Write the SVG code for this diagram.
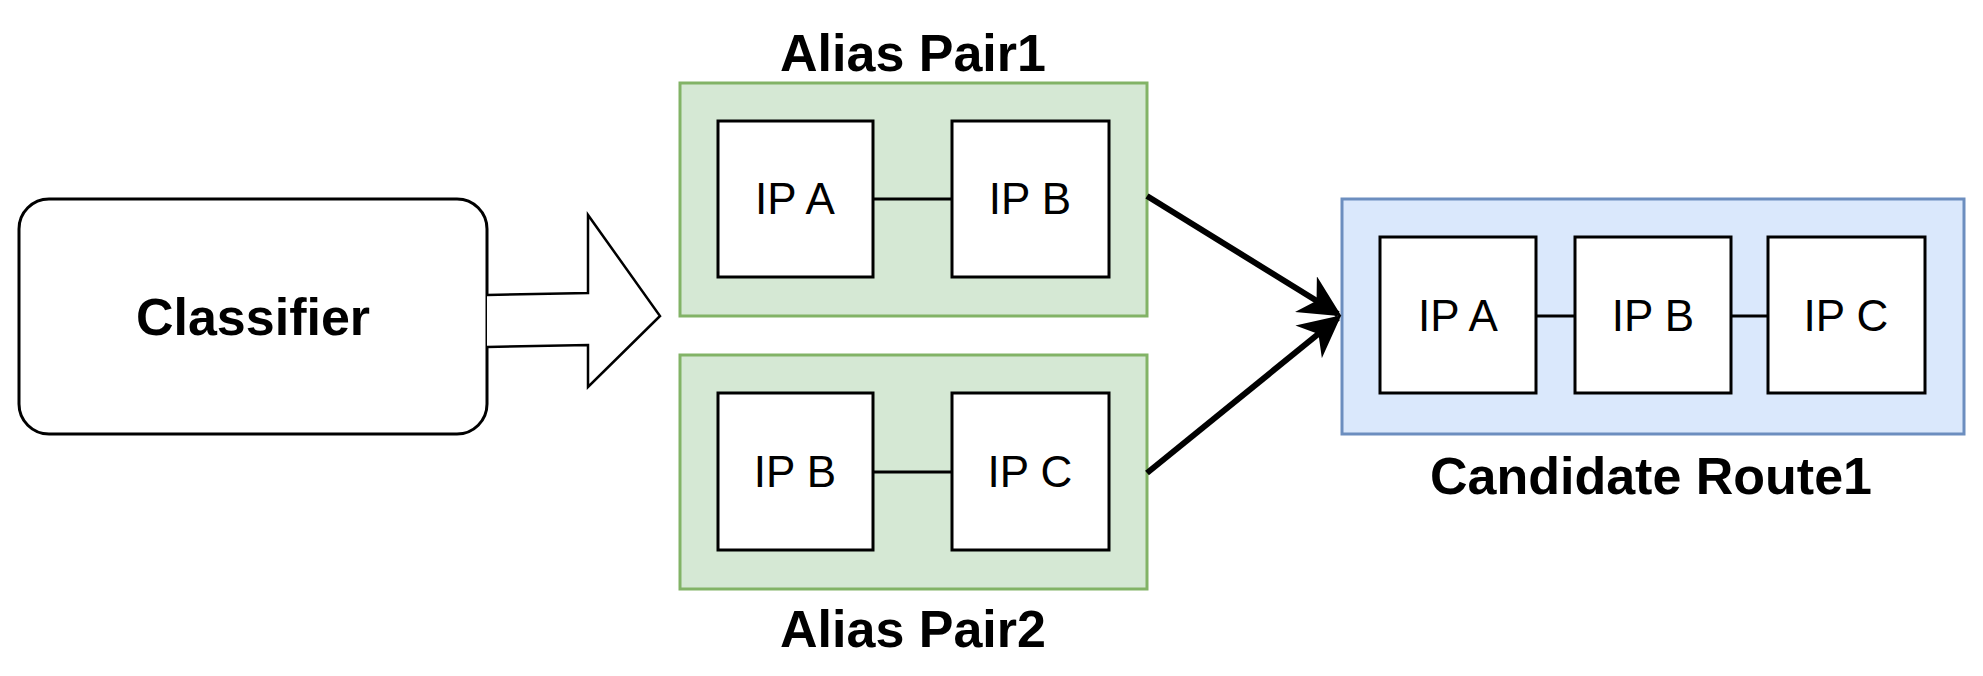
<svg xmlns="http://www.w3.org/2000/svg" width="1983" height="676" viewBox="0 0 1983 676">
<style>
.ip{fill:#fff;stroke:#000;stroke-width:3}
.t{font-family:"Liberation Sans",Arial,sans-serif;font-size:44px;text-anchor:middle}
.b{font-family:"Liberation Sans",Arial,sans-serif;font-size:52px;font-weight:bold;text-anchor:middle}
.g{fill:#d5e8d4;stroke:#82b366;stroke-width:3}
.l{stroke:#000;stroke-width:3}
</style>
<defs><marker id="ah" viewBox="0 0 10 10" refX="9" refY="5" markerWidth="7" markerHeight="7" orient="auto" markerUnits="strokeWidth"><path d="M0,0 L10,5 L0,10 L3,5 Z" fill="#000"/></marker></defs>
<rect width="1983" height="676" fill="#fff"/>
<g id="classifier"><rect x="19" y="199" width="468" height="235" rx="30" fill="#fff" stroke="#000" stroke-width="3"/><text class="b" x="253" y="335">Classifier</text></g>
<g id="alias1"><rect class="g" x="680" y="83" width="467" height="233"/><text class="b" x="913" y="71">Alias Pair1</text>
<line class="l" x1="873" y1="199" x2="952" y2="199"/>
<rect class="ip" x="718" y="121" width="155" height="156"/><text class="t" x="795" y="214">IP A</text>
<rect class="ip" x="952" y="121" width="157" height="156"/><text class="t" x="1030" y="214">IP B</text></g>
<g id="alias2"><rect class="g" x="680" y="355" width="467" height="234"/><text class="b" x="913" y="647">Alias Pair2</text>
<line class="l" x1="873" y1="472" x2="952" y2="472"/>
<rect class="ip" x="718" y="393" width="155" height="157"/><text class="t" x="795" y="487">IP B</text>
<rect class="ip" x="952" y="393" width="157" height="157"/><text class="t" x="1030" y="487">IP C</text></g>
<g id="candidate"><rect x="1342" y="199" width="622" height="235" fill="#dae8fc" stroke="#6c8ebf" stroke-width="3"/><text class="b" x="1651" y="494">Candidate Route1</text>
<line class="l" x1="1536" y1="316" x2="1575" y2="316"/><line class="l" x1="1731" y1="316" x2="1768" y2="316"/>
<rect class="ip" x="1380" y="237" width="156" height="156"/><text class="t" x="1458" y="331">IP A</text>
<rect class="ip" x="1575" y="237" width="156" height="156"/><text class="t" x="1653" y="331">IP B</text>
<rect class="ip" x="1768" y="237" width="157" height="156"/><text class="t" x="1846" y="331">IP C</text></g>
<g id="connectors">
<path d="M487,295 L588,293 L588,215 L660,316 L588,387 L588,345 L487,347" fill="#fff" stroke="#000" stroke-width="2.5"/>
<line x1="1147" y1="196" x2="1338" y2="314" stroke="#000" stroke-width="6" marker-end="url(#ah)"/>
<line x1="1147" y1="473" x2="1338" y2="318" stroke="#000" stroke-width="6" marker-end="url(#ah)"/>
</g>
</svg>
